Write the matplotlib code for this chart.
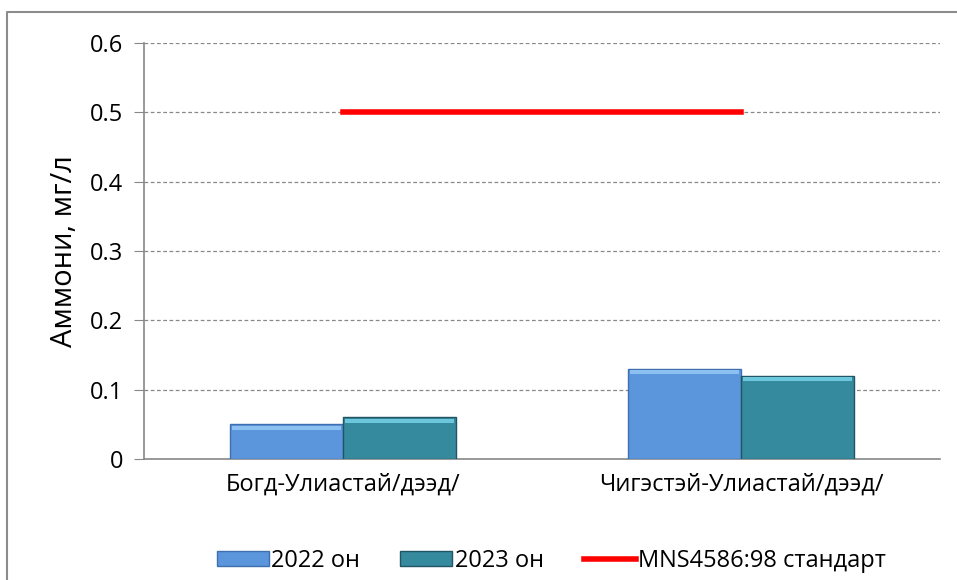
import matplotlib.pyplot as plt
from matplotlib.lines import Line2D
import numpy as np

plt.rcParams['font.family'] = ['Open Sans', 'DejaVu Sans']

categories = ['Богд-Улиастай/дээд/', 'Чигэстэй-Улиастай/дээд/']
values_2022 = [0.05, 0.13]
values_2023 = [0.06, 0.12]
standard = [0.5, 0.5]
series_names = ['2022 он', '2023 он', 'MNS4586:98 стандарт']

fig = plt.figure(figsize=(9.57, 5.8), dpi=100)
ax = fig.add_axes([0.1505, 0.2086, 0.8317, 0.7173])

x = np.arange(len(categories))
w = 0.285

# bars with a simple bevel: light band on top, darker rim
colors = ['#5b95dc', '#358a9e']
tops = ['#8cc0f0', '#6cc7dc']
edges = ['#3f6fae', '#1f5564']
handles = []
for vals, off, c, t, e, lab in zip([values_2022, values_2023], [-w / 2, w / 2],
                                    colors, tops, edges, series_names[:2]):
    h = ax.bar(x + off, vals, width=w, color=c, edgecolor=e, linewidth=1.0,
               label=lab, zorder=3)
    handles.append(h)
    ax.bar(x + off, [0.006] * len(vals), width=w * 0.96,
           bottom=np.array(vals) - 0.008, color=t, linewidth=0, zorder=4)

ln, = ax.plot(x, standard, color='#ff0000', linewidth=4, label=series_names[2], zorder=5)
handles.append(ln)

ax.set_xlim(-0.5, 1.5)
ax.set_ylim(0, 0.6)
ax.set_yticks([0, 0.1, 0.2, 0.3, 0.4, 0.5, 0.6])
ax.set_yticklabels(['0', '0.1', '0.2', '0.3', '0.4', '0.5', '0.6'], fontsize=17)
ax.set_xticks(x)
ax.set_xticklabels(categories, fontsize=17)
ax.tick_params(axis='x', length=0, pad=10)
ax.tick_params(axis='y', length=7, color='#888888', pad=8, direction='out')

ax.yaxis.grid(True, linestyle=(0, (3, 2)), color='#888888', linewidth=0.9, zorder=0)
for s in ['top', 'right']:
    ax.spines[s].set_visible(False)
ax.spines['left'].set_color('#888888')
ax.spines['bottom'].set_color('#888888')
ax.spines['left'].set_linewidth(1.2)
ax.spines['bottom'].set_linewidth(1.2)

ax.set_ylabel('Аммони, мг/л', fontsize=21, labelpad=8)

ax.legend(handles, series_names, loc='center', bbox_to_anchor=(0.512, -0.245), ncol=3,
          frameon=False, fontsize=17, handlelength=2.2, handletextpad=0.1,
          columnspacing=1.7, handleheight=0.6)

# outer chart border (only left and top visible in the crop)
fig.add_artist(Line2D([7 / 957, 7 / 957, 1.0], [0.0, 1 - 12 / 580, 1 - 12 / 580],
                      transform=fig.transFigure, color='#8c8c8c', linewidth=1.5))

fig.savefig('out.png', dpi=100)
